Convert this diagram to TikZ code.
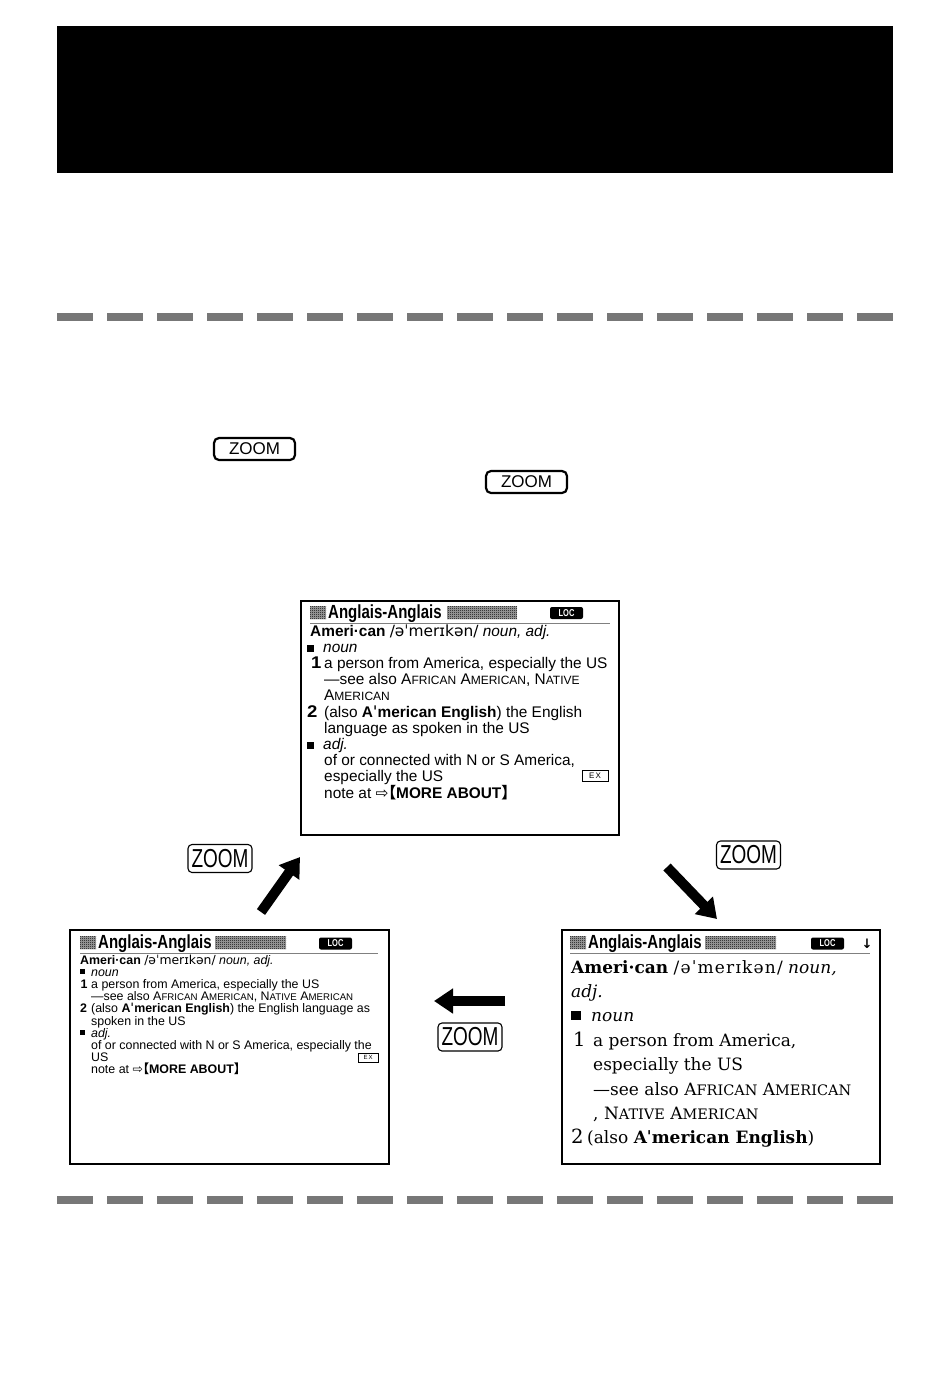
\documentclass[tikz,border=0pt]{standalone}
\usepackage{graphicx}
\usepackage{fontspec}
\setmainfont{Liberation Sans}
\newfontfamily\djs{DejaVu Sans}
\newfontfamily\djr{DejaVu Serif}
\newfontfamily\cjk{Noto Sans CJK JP}
\usetikzlibrary{arrows.meta,patterns}
\pgfdeclarepatternformonly{finecheck}{\pgfpointorigin}{\pgfqpoint{2pt}{2pt}}{\pgfqpoint{2pt}{2pt}}{%
  \pgfpathrectangle{\pgfpointorigin}{\pgfqpoint{1pt}{1pt}}%
  \pgfpathrectangle{\pgfqpoint{1pt}{1pt}}{\pgfqpoint{1pt}{1pt}}%
  \pgfusepath{fill}}
\newcommand\smc[1]{\scalebox{0.78}{#1}}
\newcommand\smcR[1]{\scalebox{0.85}{#1}}
\newcommand\numS[1]{\scalebox{1.2}[1.1]{\textbf{#1}}}
\newcommand\brk[1]{\textbf{{\cjk\kern-0.5em 【}#1{\cjk 】}}}
\definecolor{dashgray}{HTML}{777777}
\tikzset{
  scr/.style={draw, line width=2pt, inner sep=0pt},
  ts/.style={anchor=base west, inner sep=0pt, font=\fontsize{15.4}{16}\selectfont},
  tl/.style={anchor=base west, inner sep=0pt, font=\fontsize{12.4}{12}\selectfont},
  tr/.style={anchor=base west, inner sep=0pt, font=\djr\fontsize{17}{18}\selectfont},
  hdr/.style={anchor=base west, inner sep=0pt, font=\bfseries\fontsize{19}{19}\selectfont},
  chk/.style={pattern=finecheck},
  loc/.style={fill=black, rounded corners=2pt, text=white, font=\bfseries\fontsize{10}{10}\selectfont, inner sep=0pt, minimum width=33pt, minimum height=12pt},
  exbox/.style={draw, line width=0.8pt, inner sep=0pt},
  keyA/.style={draw, line width=2.2pt, rounded corners=5pt, minimum width=81pt, minimum height=22pt, inner sep=0pt, font=\fontsize{17}{17}\selectfont},
  keyB/.style={draw, line width=1.1pt, rounded corners=4pt, minimum width=64pt, minimum height=28pt, inner sep=0pt},
  bigarrow/.style={line width=10pt, -{Triangle[length=19pt,width=24pt]}},
  dashln/.style={line width=8pt, draw=dashgray, dash pattern=on 36pt off 14pt},
}
\newcommand\keyBtext{\scalebox{0.73}[1]{\fontsize{26}{26}\selectfont ZOOM}}
\newcommand\hdrtext{\scalebox{0.79}[1]{Anglais-Anglais}}
\newcommand\chkblock[4]{\fill[black!35] (#1,#2) rectangle (#3,#4); \fill[chk] (#1,#2) rectangle (#3,#4);}
\begin{document}
\begin{tikzpicture}[x=1pt,y=-1pt]
\useasboundingbox (0,0) rectangle (950,1373);
% header band
\fill (57,26) rectangle (893,173);
% dashed rules
\draw[dashln] (57,316.5) -- (893,316.5);
\draw[dashln] (57,1200) -- (893,1200);
% keys in the text
\node[keyA] (k1) at (254.5,449) {ZOOM};
\node[keyA] (k2) at (526.5,482) {ZOOM};

% ===== top screen =====
\node[scr, minimum width=318pt, minimum height=234pt] (scrT) at (460,718) {};
\chkblock{310}{606}{326}{619}
\node[hdr] (hT) at (328,618) {\hdrtext};
\chkblock{447}{606}{517}{619}
\node[loc] (locT) at (566.5,613) {\scalebox{0.75}[1]{LOC}};
\draw[gray, line width=1pt] (310,623) -- (610,623);
\node[ts] (a0) at (310,636) {\textbf{Ameri·can} {\djs /əˈmerɪkən/} \textit{noun, adj.}};
\fill (307,645) rectangle (314,652);
\node[ts] (a1) at (323,652.2) {\textit{noun}};
\node[ts] (a2n) at (311,668.4) {\numS{1}};
\node[ts] (a2) at (324,668.4) {a person from America, especially the US};
\node[ts] (a3) at (324,684.6) {—see also A\smc{FRICAN} A\smc{MERICAN}, N\smc{ATIVE}};
\node[ts] (a4) at (324,700.8) {A\smc{MERICAN}};
\node[ts] (a5n) at (307,717) {\numS{2}};
\node[ts] (a5) at (324,717) {(also \textbf{A{\djs ˈ}merican English}) the English};
\node[ts] (a6) at (324,733.2) {language as spoken in the US};
\fill (307,742) rectangle (314,749);
\node[ts] (a7) at (323,749.4) {\textit{adj.}};
\node[ts] (a8) at (324,765.6) {of or connected with N or S America,};
\node[ts] (a9) at (324,781.8) {especially the US};
\node[exbox, minimum width=26pt, minimum height=11pt, font=\fontsize{8}{8}\selectfont] (a9x) at (595,775.5) {E\,X};
\node[ts] (a10) at (324,798) {note at {\djs ⇨}\brk{MORE ABOUT}};

% ===== bottom-left screen =====
\node[scr, minimum width=319pt, minimum height=234pt] (scrL) at (229.5,1047) {};
\chkblock{80}{936}{96}{949}
\node[hdr] (hL) at (98,948) {\hdrtext};
\chkblock{215}{936}{286}{949}
\node[loc] (locL) at (335.5,943.5) {\scalebox{0.75}[1]{LOC}};
\draw[gray, line width=1pt] (80,953) -- (378,953);
\node[tl] (b0) at (80,964) {\textbf{Ameri·can} {\djs /əˈmerɪkən/} \textit{noun, adj.}};
\fill (80,969) rectangle (85,974);
\node[tl] (b1) at (91,976.2) {\textit{noun}};
\node[tl] (b2n) at (80.5,988.4) {\textbf{1}};
\node[tl] (b2) at (91,988.4) {a person from America, especially the US};
\node[tl] (b3) at (91,1000.6) {—see also A\smc{FRICAN} A\smc{MERICAN}, N\smc{ATIVE} A\smc{MERICAN}};
\node[tl] (b4n) at (80,1012.8) {\textbf{2}};
\node[tl] (b4) at (91,1012.8) {(also \textbf{A{\djs ˈ}merican English}) the English language as};
\node[tl] (b5) at (91,1025) {spoken in the US};
\fill (80,1030) rectangle (85,1035);
\node[tl] (b6) at (91,1037.2) {\textit{adj.}};
\node[tl] (b7) at (91,1049.4) {of or connected with N or S America, especially the};
\node[tl] (b8) at (91,1061.6) {US};
\node[exbox, minimum width=20pt, minimum height=9pt, font=\fontsize{6}{6}\selectfont] (b8x) at (368,1057.5) {E\,X};
\node[tl] (b9) at (91,1073.8) {note at {\djs ⇨}\brk{MORE ABOUT}};

% ===== bottom-right screen =====
\node[scr, minimum width=318pt, minimum height=234pt] (scrR) at (721,1047) {};
\chkblock{570}{936}{586}{949}
\node[hdr] (hR) at (588,948) {\hdrtext};
\chkblock{705}{936}{776}{949}
\node[loc] (locR) at (827.5,943.5) {\scalebox{0.75}[1]{LOC}};
\node[anchor=center, inner sep=0pt, font=\djs\bfseries\fontsize{13}{13}\selectfont] (dnR) at (867,944) {↓};
\draw[gray, line width=1pt] (570,953) -- (870,953);
\node[tr] (c0) at (571,973) {\textbf{Ameri·can} {\addfontfeature{LetterSpace=7}/əˈmerɪkən/} \textit{noun,}};
\node[tr] (c1) at (571,997.4) {\textit{adj.}};
\fill (571,1011) rectangle (581,1020);
\node[tr] (c2) at (591,1021.8) {\textit{noun}};
\node[tr] (c3n) at (573,1046.2) {\scalebox{1.15}{1}};
\node[tr] (c3) at (593,1046.2) {a person from America,};
\node[tr] (c4) at (593,1070.6) {especially the US};
\node[tr] (c5) at (593,1095) {—see also A\smcR{FRICAN} A\smcR{MERICAN}};
\node[tr] (c6) at (593,1119.4) {, N\smcR{ATIVE} A\smcR{MERICAN}};
\node[tr] (c7n) at (571,1143.8) {\scalebox{1.15}{2}};
\node[tr] (c7) at (587,1143.8) {(also \textbf{Aˈmerican English})};

% ===== arrows and ZOOM labels =====
\coordinate (u1) at (261,912); \coordinate (u2) at (300,857);
\coordinate (d1) at (667,867); \coordinate (d2) at (717,919);
\coordinate (l1) at (505,1001); \coordinate (l2) at (434,1001);
\draw[bigarrow] (u1) -- (u2);
\draw[bigarrow] (d1) -- (d2);
\draw[bigarrow] (l1) -- (l2);
\node[keyB] (z1) at (220,858.5) {\keyBtext};
\node[keyB] (z2) at (748.5,855) {\keyBtext};
\node[keyB] (z3) at (470,1037) {\keyBtext};
\end{tikzpicture}
\end{document}
